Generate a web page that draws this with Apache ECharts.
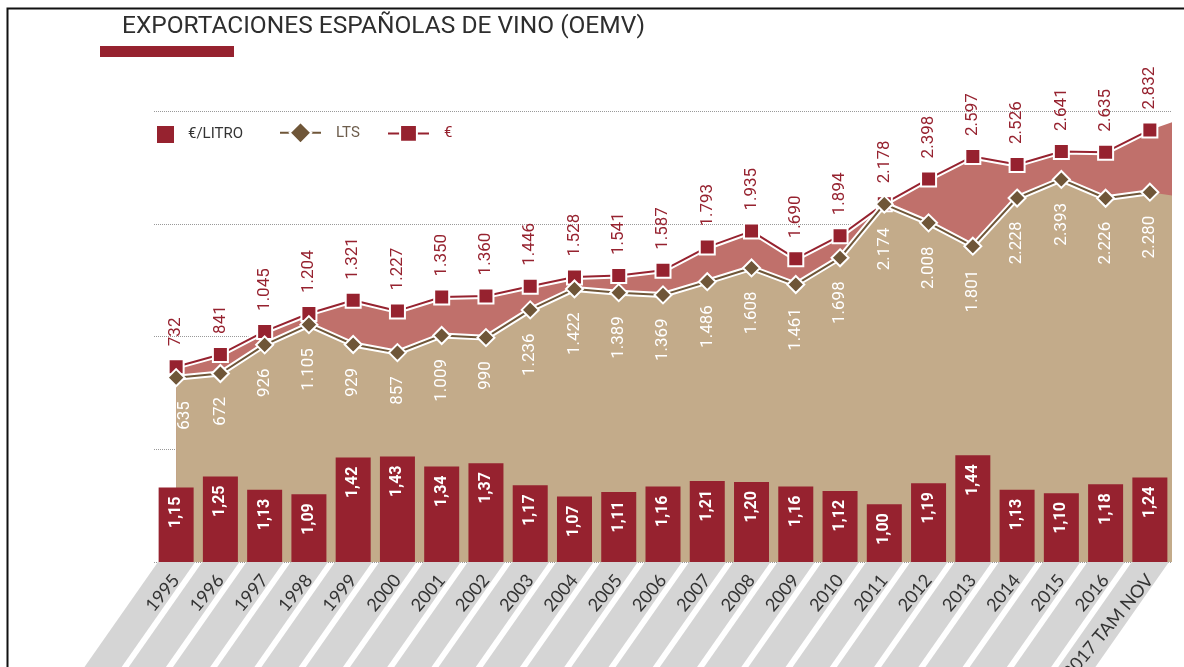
<!DOCTYPE html>
<html>
<head>
<meta charset="utf-8">
<title>Exportaciones españolas de vino</title>
<script src="https://cdn.jsdelivr.net/npm/echarts@6/dist/echarts.min.js"></script>
<style>
html, body { margin: 0; padding: 0; background: #fff; }
#chart { width: 1184px; height: 667px; }
</style>
</head>
<body>
<div id="chart"></div>
<script>
// datos
var years = ['1995', '1996', '1997', '1998', '1999', '2000', '2001', '2002', '2003', '2004', '2005',
  '2006', '2007', '2008', '2009', '2010', '2011', '2012', '2013', '2014', '2015', '2016', '2017 TAM NOV'];
var euros = [732, 841, 1045, 1204, 1321, 1227, 1350, 1360, 1446, 1528, 1541, 1587, 1793, 1935, 1690,
  1894, 2178, 2398, 2597, 2526, 2641, 2635, 2832];
var litros = [635, 672, 926, 1105, 929, 857, 1009, 990, 1236, 1422, 1389, 1369, 1486, 1608, 1461,
  1698, 2174, 2008, 1801, 2228, 2393, 2226, 2280];
var euroPorLitro = [1.15, 1.25, 1.13, 1.09, 1.42, 1.43, 1.34, 1.37, 1.17, 1.07, 1.11, 1.16, 1.21,
  1.20, 1.16, 1.12, 1.00, 1.19, 1.44, 1.13, 1.10, 1.18, 1.24];
// nivel de las areas en el borde derecho
var euroTail = 2900;
var litrosTail = 2250;

var RED = '#96222f';
var BROWN = '#6f5638';
var BAR_MIN = 0.48;

function miles(v) {
  if (v < 1000) return String(v);
  var r = String(v % 1000);
  while (r.length < 3) r = '0' + r;
  return Math.floor(v / 1000) + '.' + r;
}
function coma(v) { return v.toFixed(2).replace('.', ','); }

// areas sobre eje x de valor (punto i en i+0.5)
var areaEuros = euros.map(function (v, i) { return [i + 0.5, v]; }).concat([[years.length, euroTail]]);
var areaLitros = litros.map(function (v, i) { return [i + 0.5, v]; }).concat([[years.length, litrosTail]]);

var legendText = { fontFamily: 'Roboto', fontSize: 15, padding: [0, 0, 0, 10] };

var chart = echarts.init(document.getElementById('chart'));
chart.setOption({
  animation: false,
  title: {
    text: 'EXPORTACIONES ESPAÑOLAS DE VINO (OEMV)',
    left: 117,
    top: 9,
    textStyle: { fontFamily: 'Roboto', fontSize: 24.5, fontWeight: 'normal', color: '#2e2e2e' }
  },
  graphic: [
    { type: 'rect', left: 5, top: 6, shape: { width: 1300, height: 800 },
      style: { fill: 'none', stroke: '#111', lineWidth: 2 }, silent: true },
    { type: 'rect', left: 100, top: 46, shape: { width: 134, height: 11 },
      style: { fill: RED }, silent: true }
  ],
  legend: [
    {
      data: [{ name: '€/LITRO', icon: 'rect' }],
      left: 152, top: 121, itemWidth: 17, itemHeight: 17,
      textStyle: { fontFamily: 'Roboto', fontSize: 15, color: '#333', padding: [0, 0, 0, 9] }
    },
    {
      data: [{ name: 'LTS', textStyle: { color: '#6d5d4c' } }],
      left: 274, top: 116, itemWidth: 41, itemHeight: 27,
      textStyle: legendText
    },
    {
      data: [{ name: '€', textStyle: { color: RED } }],
      left: 382, top: 119, itemWidth: 41, itemHeight: 21,
      textStyle: legendText
    }
  ],
  grid: { left: 154, right: 12, top: 111, bottom: 105, outerBoundsMode: 'none' },
  xAxis: [
    {
      type: 'category', data: years, boundaryGap: true, z: 10,
      axisLine: { show: false }, axisTick: { show: false },
      axisLabel: { interval: 0, rotate: 50, margin: 15, fontFamily: 'Lato', fontSize: 18, color: '#333' }
    },
    { type: 'value', min: 0, max: years.length, show: false }
  ],
  yAxis: [
    {
      type: 'value', min: -1000, max: 3000, interval: 1000,
      axisLabel: { show: false }, axisLine: { show: false }, axisTick: { show: false },
      splitLine: { lineStyle: { type: 'dotted', color: '#999', width: 1 } }
    },
    { type: 'value', min: BAR_MIN, max: 4.54, show: false, splitLine: { show: false } }
  ],
  series: [
    {
      type: 'line', xAxisIndex: 1, yAxisIndex: 0, data: areaEuros, symbol: 'none', silent: true, z: 1,
      lineStyle: { width: 0 }, areaStyle: { color: '#c0706b', opacity: 1, origin: 'start' }
    },
    {
      type: 'line', xAxisIndex: 1, yAxisIndex: 0, data: areaLitros, symbol: 'none', silent: true, z: 1,
      lineStyle: { width: 0 }, areaStyle: { color: '#c3ab8a', opacity: 1, origin: 'start' }
    },
    {
      // franjas grises de las etiquetas del eje
      type: 'custom', xAxisIndex: 0, yAxisIndex: 1, silent: true, z: 1, clip: false,
      data: years.map(function (y, i) { return [i]; }),
      renderItem: function (params, api) {
        var top = api.coord([api.value(0), BAR_MIN]);
        var w = api.size([1, 0])[0];
        var h = 120, s = h * 0.7;
        var l = top[0] - w * 0.41, r = top[0] + w * 0.43;
        return {
          type: 'polygon',
          shape: { points: [[l, top[1]], [r, top[1]], [r - s, top[1] + h], [l - s, top[1] + h]] },
          style: { fill: '#d5d5d5' }
        };
      }
    },
    {
      name: '€/LITRO', type: 'bar', xAxisIndex: 0, yAxisIndex: 1, data: euroPorLitro, barWidth: 35, z: 2,
      itemStyle: { color: RED },
      label: {
        show: true, position: 'insideTop', distance: 9, rotate: 90, align: 'right', verticalAlign: 'middle',
        color: '#fff', fontFamily: 'Roboto', fontWeight: 'bold', fontSize: 16,
        formatter: function (p) { return coma(p.value); }
      }
    },
    {
      type: 'line', xAxisIndex: 0, yAxisIndex: 0, data: euros, symbol: 'none', silent: true, z: 3,
      lineStyle: { color: '#fff', width: 6 }
    },
    {
      name: '€', type: 'line', xAxisIndex: 0, yAxisIndex: 0, data: euros, z: 4,
      symbol: 'rect', symbolSize: 15,
      lineStyle: { color: RED, width: 2 },
      itemStyle: { color: RED, borderColor: '#fff', borderWidth: 2 },
      label: {
        show: true, position: 'top', distance: 12, rotate: 90, align: 'left', verticalAlign: 'middle',
        color: RED, fontFamily: 'Roboto', fontSize: 17,
        formatter: function (p) { return miles(p.value); }
      }
    },
    {
      type: 'line', xAxisIndex: 0, yAxisIndex: 0, data: litros, symbol: 'none', silent: true, z: 5,
      lineStyle: { color: '#fff', width: 6 }
    },
    {
      name: 'LTS', type: 'line', xAxisIndex: 0, yAxisIndex: 0, z: 6,
      // la primera etiqueta se desplaza para quedar dentro del area
      data: litros.map(function (v, i) { return i === 0 ? { value: v, label: { offset: [0, 9] } } : v; }),
      symbol: 'diamond', symbolSize: 17,
      lineStyle: { color: BROWN, width: 2 },
      itemStyle: { color: BROWN, borderColor: '#fff', borderWidth: 2 },
      label: {
        show: true, position: 'bottom', distance: 14, rotate: 90, align: 'right', verticalAlign: 'middle',
        color: '#fff', fontFamily: 'Roboto', fontSize: 17,
        formatter: function (p) { return miles(p.value); }
      }
    }
  ]
});
</script>
</body>
</html>
